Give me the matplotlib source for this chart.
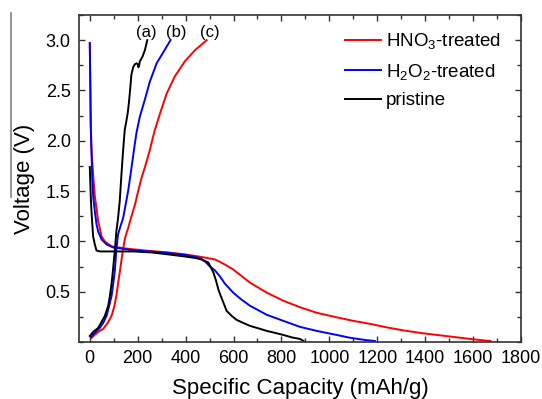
import numpy as np
import matplotlib
matplotlib.use("Agg")
import matplotlib.pyplot as plt
from matplotlib.lines import Line2D
from matplotlib.ticker import MultipleLocator

plt.rcParams['font.family'] = ['Liberation Sans', 'DejaVu Sans']
plt.rcParams['mathtext.fontset'] = 'custom'
plt.rcParams['mathtext.rm'] = 'Liberation Sans'
plt.rcParams['mathtext.it'] = 'Liberation Sans'

# discharge curves (capacity mAh/g, voltage V)
red_dis_x = [0, 2, 4, 7, 14, 21, 28, 35, 42, 49, 63, 91, 146, 250, 328, 400, 467, 523, 544, 564,
             599, 669, 739, 808, 878, 948, 1031, 1100, 1171, 1240, 1310, 1380, 1449, 1520, 1589, 1640, 1672]
red_dis_y = [2.97, 2.6, 2.16, 1.91, 1.66, 1.45, 1.33, 1.2, 1.13, 1.05, 1.0, 0.95, 0.93, 0.905, 0.89, 0.87,
             0.845, 0.82, 0.795, 0.77, 0.72, 0.59, 0.49, 0.41, 0.345, 0.29, 0.245, 0.21, 0.18, 0.145,
             0.115, 0.09, 0.07, 0.05, 0.03, 0.017, 0.01]
blue_dis_x = [0, 2, 4, 7, 10, 14, 21, 28, 35, 49, 70, 97, 146, 181, 250, 328, 400, 460, 481, 502, 523,
              544, 564, 599, 634, 669, 739, 808, 878, 948, 1031, 1080, 1120, 1160, 1190]
blue_dis_y = [2.97, 2.6, 2.16, 1.91, 1.65, 1.45, 1.30, 1.17, 1.10, 1.02, 0.97, 0.94, 0.925, 0.91, 0.90,
              0.885, 0.865, 0.835, 0.80, 0.75, 0.71, 0.65, 0.58, 0.49, 0.42, 0.36, 0.27, 0.21, 0.15,
              0.11, 0.07, 0.045, 0.03, 0.017, 0.01]
black_dis_x = [0, 2, 4, 7, 14, 21, 28, 42, 100, 181, 258, 330, 397, 440, 467, 495, 516, 527, 537, 548,
               558, 571, 592, 613, 640, 669, 705, 739, 775, 808, 845, 878, 892]
black_dis_y = [1.74, 1.6, 1.45, 1.30, 1.05, 0.97, 0.91, 0.90, 0.90, 0.90, 0.89, 0.87, 0.85, 0.835, 0.82,
               0.79, 0.69, 0.61, 0.52, 0.45, 0.39, 0.31, 0.26, 0.22, 0.19, 0.16, 0.135, 0.11, 0.09,
               0.07, 0.045, 0.03, 0.01]

# charge curves
red_ch_x = [7, 20, 35, 56, 75, 91, 103, 111, 118, 125, 132, 139, 146, 153, 160, 174, 188, 202, 216,
            233, 251, 262, 272, 293, 321, 355, 397, 439, 488]
red_ch_y = [0.04, 0.07, 0.10, 0.13, 0.19, 0.26, 0.36, 0.46, 0.58, 0.69, 0.81, 0.92, 1.02, 1.08, 1.13,
            1.25, 1.36, 1.50, 1.63, 1.76, 1.91, 2.02, 2.11, 2.27, 2.47, 2.64, 2.79, 2.90, 3.0]
blue_ch_x = [5, 20, 42, 56, 70, 80, 91, 98, 105, 111, 118, 128, 139, 150, 160, 170, 181, 188, 195, 202,
             209, 230, 251, 279, 307, 337]
blue_ch_y = [0.05, 0.09, 0.14, 0.19, 0.26, 0.35, 0.46, 0.58, 0.72, 0.92, 1.07, 1.15, 1.23, 1.37, 1.50,
             1.66, 1.85, 1.97, 2.08, 2.16, 2.24, 2.41, 2.59, 2.77, 2.88, 3.0]
black_ch_x = [0, 14, 35, 49, 63, 77, 84, 91, 97, 105, 111, 118, 125, 132, 139, 146, 153, 158, 163, 167,
              171, 174, 181, 188, 195, 200, 203, 206, 209, 219, 230, 240]
black_ch_y = [0.06, 0.10, 0.14, 0.20, 0.26, 0.36, 0.46, 0.58, 0.72, 0.92, 1.1, 1.23, 1.40, 1.66, 1.9,
              2.11, 2.2, 2.27, 2.37, 2.47, 2.58, 2.66, 2.73, 2.76, 2.77, 2.76, 2.73, 2.75, 2.79, 2.83,
              2.90, 3.0]

labels = ['HNO$_3$-treated', 'H$_2$O$_2$-treated', 'pristine']
tags = ['(a)', '(b)', '(c)']
tag_x = [237, 362, 502]

fig = plt.figure(figsize=(5.42, 3.99), dpi=100)
ax = fig.add_axes([79/542, 1-342/399, 442/542, 327/399])

lw = 1.4
ax.plot(red_dis_x, red_dis_y, color='red', lw=lw, label=labels[0])
ax.plot(red_ch_x, red_ch_y, color='red', lw=lw)
ax.plot(blue_dis_x, blue_dis_y, color='blue', lw=lw, label=labels[1])
ax.plot(blue_ch_x, blue_ch_y, color='blue', lw=lw)
ax.plot(black_dis_x, black_dis_y, color='black', lw=lw, label=labels[2])
ax.plot(black_ch_x, black_ch_y, color='black', lw=lw)

for t, tx in zip(tags, tag_x):
    ax.text(tx, 3.08, t, ha='center', va='center', fontsize=12)

ax.set_xlim(-45, 1800)
ax.set_ylim(0.0, 3.25)
ax.set_xticks(np.arange(0, 1801, 200))
ax.set_yticks([0.5, 1.0, 1.5, 2.0, 2.5, 3.0])
ax.xaxis.set_minor_locator(MultipleLocator(100))
ax.yaxis.set_minor_locator(MultipleLocator(0.25))
ax.tick_params(which='both', direction='in', top=True, right=True, labelsize=13, width=1.0, color='#333333')
ax.tick_params(which='major', length=4.5, pad=6)
ax.tick_params(which='minor', length=3)
for s in ax.spines.values():
    s.set_linewidth(1.2)
    s.set_color('#333333')

ax.set_xlabel('Specific Capacity (mAh/g)', fontsize=16, labelpad=8)
ax.set_ylabel('Voltage (V)', fontsize=16, labelpad=8)

ax.legend(loc='upper right', frameon=False, fontsize=13.5, handlelength=1.9,
          handletextpad=0.3, labelspacing=0.55, borderaxespad=0.3,
          bbox_to_anchor=(0.985, 0.99))

fig.add_artist(Line2D([11/542, 11/542], [1-13/399, 1-197/399], color='#808080', lw=1.2))

fig.savefig('out.png', dpi=100)
